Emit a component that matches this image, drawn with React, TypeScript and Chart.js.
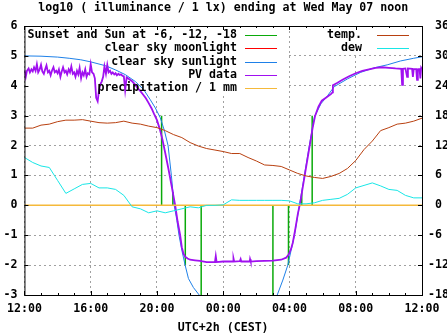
import React, { useEffect, useRef } from "react";
import { Chart, registerables } from "chart.js";

Chart.register(...registerables);

// ---------- text ----------
const chartTitle = "log10 ( illuminance / 1 lx) ending at Wed May 07 noon";
const xAxisTitle = "UTC+2h (CEST)";
const xTickHours = [0, 4, 8, 12, 16, 20, 24];
const xTickLabels = ["12:00", "16:00", "20:00", "00:00", "04:00", "08:00", "12:00"];
const legendLeftLabels = [
  "Sunset and Sun at -6, -12, -18",
  "clear sky moonlight",
  "clear sky sunlight",
  "PV data",
  "precipitation / 1 mm",
];
const legendRightLabels = ["temp.", "dew"];

// ---------- data (hours since 12:00) ----------
const sunlightHours = [
  0, 1, 2, 2.7, 3.4, 4, 4.9, 5.5, 6.1, 6.7, 7.2, 7.6, 7.9, 8.2, 8.45, 8.67, 8.87, 9.04, 9.2, 9.33, 9.5, 9.7,
  9.9, 10.2, 10.55, 10.8, 15.0, 15.26, 15.6, 15.9, 16.1, 16.3, 16.6, 16.9, 17.2, 17.5, 17.9, 18.3, 18.7,
  19.5, 20.3, 21.1, 21.9, 22.7, 23.5, 24,
];
const sunlightLog = [
  5.0, 4.99, 4.96, 4.92, 4.87, 4.8, 4.67, 4.53, 4.37, 4.14, 3.87, 3.53, 3.26, 2.93, 2.5, 2.0, 1.0, 0.0, -0.5,
  -1.0, -1.5, -2.0, -2.45, -2.75, -3.0, -3.3, -3.4, -3.0, -2.5, -2.0, -1.5, -1.0, 0.0, 1.0, 2.0, 2.95, 3.4,
  3.67, 3.97, 4.23, 4.45, 4.6, 4.7, 4.83, 4.92, 4.97,
];

const pvHours = [
  0.0, 0.08, 0.15, 0.25, 0.33, 0.42, 0.5, 0.58, 0.67, 0.75, 0.83, 0.92, 1.0, 1.08, 1.17, 1.25, 1.33, 1.42,
  1.5, 1.58, 1.67, 1.75, 1.83, 1.92, 2.0, 2.08, 2.17, 2.25, 2.33, 2.42, 2.5, 2.58, 2.67, 2.75, 2.83, 2.92,
  3.0, 3.08, 3.17, 3.25, 3.33, 3.42, 3.5, 3.58, 3.67, 3.75, 3.83, 3.92, 4.0, 4.08, 4.17, 4.25, 4.33, 4.42,
  4.5, 4.58, 4.67, 4.75, 4.83, 4.92, 5.0, 5.08, 5.17, 5.25, 5.33, 5.42, 5.5, 5.58, 5.67, 5.75, 5.83, 5.92,
  6.0, 6.08, 6.17, 6.33, 6.5, 6.67, 6.83, 7.0, 7.17, 7.33, 7.5, 7.67, 7.83, 8.0, 8.17, 8.33, 8.5, 8.7, 8.9,
  9.1, 9.25, 9.4, 9.5, 9.6, 9.7, 9.85, 10.0, 10.3, 10.6, 11.0, 11.5, 11.55, 11.6, 12.0, 12.6, 12.62, 12.66,
  13.0, 13.05, 13.09, 13.6, 13.62, 13.66, 14.0, 14.5, 15.0, 15.5, 15.8, 15.95, 16.1, 16.2, 16.35, 16.5,
  16.65, 16.8, 16.95, 17.1, 17.25, 17.4, 17.55, 17.75, 17.95, 18.2, 18.5, 18.6, 18.62, 18.9, 19.2, 19.6,
  20.0, 20.4, 20.8, 21.2, 21.6, 22.0, 22.4, 22.75, 22.8, 22.85, 23.0, 23.1, 23.15, 23.4, 23.45, 23.5, 23.65,
  23.7, 23.75, 23.85, 23.9, 23.95, 24.0,
];
const pvLog = [
  4.52, 4.3, 4.5, 4.58, 4.45, 4.55, 4.48, 4.62, 4.5, 4.72, 4.45, 4.55,
  4.7, 4.48, 4.4, 4.55, 4.68, 4.45, 4.5, 4.35, 4.52, 4.62, 4.45, 4.5,
  4.42, 4.55, 4.3, 4.48, 4.62, 4.45, 4.5, 4.38, 4.55, 4.45, 4.65, 4.4,
  4.45, 4.3, 4.5, 4.38, 4.6, 4.25, 4.45, 4.35, 4.55, 4.3, 4.42, 4.38,
  4.72, 4.45, 4.4, 4.25, 3.6, 3.48, 3.85, 4.05, 4.15, 4.3, 4.65, 4.4,
  4.7, 4.45, 4.5, 4.4, 4.45, 4.38, 4.42, 4.35, 4.4, 4.36, 4.38, 4.33,
  4.32, 3.85, 4.28, 4.22,
  4.15, 4.05, 3.92, 3.82, 3.7, 3.58, 3.42, 3.25, 3.05, 2.85, 2.55, 2.2, 1.75, 1.2, 0.6, 0.0, -0.55, -1.0,
  -1.4, -1.62, -1.72, -1.78, -1.82, -1.84, -1.86, -1.9, -1.9, -1.7, -1.9, -1.88, -1.88, -1.78, -1.88, -1.87,
  -1.8, -1.88, -1.88, -1.8, -1.88, -1.87, -1.86, -1.85, -1.82, -1.75, -1.65, -1.45, -1.25, -0.8, -0.3, 0.1,
  0.6, 1.1, 1.6, 2.1, 2.6, 3.0, 3.3, 3.5, 3.6, 3.72, 3.78, 4.02, 4.1, 4.2, 4.32, 4.42, 4.5, 4.55, 4.6, 4.62,
  4.6, 4.58, 4.57, 4.03, 4.57, 4.58, 4.3, 4.58, 4.57, 4.3, 4.56, 4.56, 4.2, 4.55, 4.56, 4.25, 4.6, 4.55,
];

const sunEventHours = [8.28, 8.96, 9.71, 10.67, 15.0, 15.94, 16.74, 17.37];
const sunEventLevels = [3, 0.45, -2, -3, -3, -2, 0.45, 3];

const moonHours: number[] = [];
const moonLog: number[] = [];

const precipHours = [0, 24];
const precipLog = [0, 0];

const weatherHours = [
  0, 0.5, 1, 1.5, 2, 2.5, 3, 3.5, 4, 4.5, 5, 5.5, 6, 6.5, 7, 7.5, 8, 8.5, 9, 9.5, 10, 10.5, 11, 11.5, 12,
  12.5, 13, 13.5, 14, 14.5, 15, 15.5, 16, 16.5, 17, 17.5, 18, 18.5, 19, 19.5, 20, 20.5, 21, 21.5, 22, 22.5,
  23, 23.5, 24,
];
const tempC = [
  15.5, 15.5, 16.1, 16.3, 16.8, 17.1, 17.1, 17.2, 16.9, 16.6, 16.5, 16.6, 16.9, 16.5, 16.3, 15.9, 15.6, 15.0,
  14.2, 13.6, 12.6, 11.9, 11.4, 11.1, 10.8, 10.4, 10.4, 9.6, 8.9, 8.1, 8.0, 7.8, 7.1, 6.4, 5.9, 5.6, 5.4, 5.8,
  6.4, 7.4, 9.0, 11.2, 12.9, 15.0, 15.6, 16.3, 16.5, 16.9, 17.5,
];
const dewC = [
  9.6, 8.6, 7.9, 7.6, 5.0, 2.4, 3.3, 4.2, 4.4, 3.5, 3.5, 3.2, 2.0, -0.3, -0.7, -1.5, -1.1, -1.5, -1.1, -0.7,
  -0.3, -0.5, 0.0, 0.0, 0.1, 1.1, 1.0, 1.0, 1.0, 1.0, 1.0, 1.0, 0.9, 0.3, 0.3, 0.5, 1.0, 1.2, 1.4, 2.2, 3.5,
  4.0, 4.5, 3.9, 3.2, 3.0, 2.0, 1.5, 1.5,
];

// ---------- styles ----------
const FONT_FAMILY = "'DejaVu Sans Mono', 'Liberation Mono', monospace";
const FONT_SIZE = 11.6;
const FONT_CSS = `bold ${FONT_SIZE}px ${FONT_FAMILY}`;
const tickFont = { family: FONT_FAMILY, size: FONT_SIZE, weight: "bold" as const };

const COL_GREEN = "#0aaa0a";
const COL_RED = "#ff0000";
const COL_BLUE = "#1e80e8";
const COL_PURPLE = "#a010f0";
const COL_YELLOW = "#f5b93a";
const COL_TEMP = "#b84010";
const COL_DEW = "#18e6e6";
const legendLeftColors = [COL_GREEN, COL_RED, COL_BLUE, COL_PURPLE, COL_YELLOW];
const legendRightColors = [COL_TEMP, COL_DEW];

function pts(xs: number[], ys: number[]) {
  return xs.map((x, i) => ({ x, y: ys[i] }));
}

function impulses(xs: number[], ys: number[]) {
  const out: { x: number; y: number | null }[] = [];
  xs.forEach((x, i) => {
    out.push({ x, y: 0 });
    out.push({ x, y: ys[i] });
    out.push({ x, y: null });
  });
  return out;
}

const decorPlugin = {
  id: "gnuplotDecor",
  beforeDatasetsDraw(chart: any) {
    const { ctx, chartArea: a } = chart;
    ctx.save();
    ctx.fillStyle = "#ffffff";
    ctx.fillRect(a.left + 1, a.top + 1, 263, 67);
    ctx.fillRect(330, a.top + 1, a.right - 331, 28);
    ctx.restore();
  },
  afterDraw(chart: any) {
    const { ctx, chartArea: a } = chart;
    const xs = chart.scales.x;
    ctx.save();
    ctx.font = FONT_CSS;
    ctx.fillStyle = "#000";
    ctx.textBaseline = "middle";
    ctx.textAlign = "center";
    ctx.fillText(chartTitle, (a.left + a.right) / 2, 8);

    ctx.textAlign = "right";
    legendLeftLabels.forEach((label, i) => {
      const y = 35 + i * 13.25;
      ctx.fillStyle = "#000";
      ctx.fillText(label, 237, y);
      ctx.strokeStyle = legendLeftColors[i];
      ctx.lineWidth = 1;
      ctx.beginPath();
      ctx.moveTo(245, Math.round(y) + 0.5);
      ctx.lineTo(277, Math.round(y) + 0.5);
      ctx.stroke();
    });
    legendRightLabels.forEach((label, i) => {
      const y = 35 + i * 13.25;
      ctx.fillStyle = "#000";
      ctx.fillText(label, 362, y);
      ctx.strokeStyle = legendRightColors[i];
      ctx.lineWidth = 1;
      ctx.beginPath();
      ctx.moveTo(377, Math.round(y) + 0.5);
      ctx.lineTo(409, Math.round(y) + 0.5);
      ctx.stroke();
    });

    // border
    ctx.strokeStyle = "#000";
    ctx.lineWidth = 1;
    ctx.strokeRect(a.left + 0.5, a.top + 0.5, a.right - a.left, a.bottom - a.top);

    // tic marks
    ctx.beginPath();
    for (let h = 0; h <= 24; h++) {
      const px = Math.round(xs.getPixelForValue(h)) + 0.5;
      const len = h % 4 === 0 ? 4 : 2;
      ctx.moveTo(px, a.bottom);
      ctx.lineTo(px, a.bottom - len);
      ctx.moveTo(px, a.top);
      ctx.lineTo(px, a.top + len);
    }
    const ys = chart.scales.y;
    for (let v = -3; v <= 6; v++) {
      const py = Math.round(ys.getPixelForValue(v)) + 0.5;
      ctx.moveTo(a.left, py);
      ctx.lineTo(a.left + 4, py);
      ctx.moveTo(a.right, py);
      ctx.lineTo(a.right - 4, py);
    }
    ctx.stroke();
    ctx.restore();
  },
};

export default function App() {
  const ref = useRef<HTMLCanvasElement | null>(null);
  useEffect(() => {
    document.body.style.margin = "0";
    const canvas = ref.current;
    if (!canvas) return;
    const chart = new Chart(canvas, {
      type: "line",
      data: {
        datasets: [
          {
            label: legendLeftLabels[0],
            data: impulses(sunEventHours, sunEventLevels) as any,
            borderColor: COL_GREEN,
            borderWidth: 1.5,
            pointRadius: 0,
            spanGaps: false,
            order: 7,
            yAxisID: "y",
          },
          {
            label: legendLeftLabels[1],
            data: pts(moonHours, moonLog),
            borderColor: COL_RED,
            borderWidth: 1,
            pointRadius: 0,
            order: 6,
            yAxisID: "y",
          },
          {
            label: legendLeftLabels[2],
            data: pts(sunlightHours, sunlightLog),
            borderColor: COL_BLUE,
            borderWidth: 1,
            pointRadius: 0,
            order: 5,
            yAxisID: "y",
          },
          {
            label: legendLeftLabels[3],
            data: pts(pvHours, pvLog),
            borderColor: COL_PURPLE,
            borderWidth: 1.8,
            pointRadius: 0,
            borderJoinStyle: "miter",
            order: 4,
            yAxisID: "y",
          },
          {
            label: legendLeftLabels[4],
            data: pts(precipHours, precipLog),
            borderColor: COL_YELLOW,
            borderWidth: 1.5,
            pointRadius: 0,
            order: 3,
            yAxisID: "y",
          },
          {
            label: legendRightLabels[0],
            data: pts(weatherHours, tempC),
            borderColor: COL_TEMP,
            borderWidth: 1,
            pointRadius: 0,
            order: 2,
            yAxisID: "y2",
          },
          {
            label: legendRightLabels[1],
            data: pts(weatherHours, dewC),
            borderColor: COL_DEW,
            borderWidth: 1,
            pointRadius: 0,
            order: 1,
            yAxisID: "y2",
          },
        ],
      },
      options: {
        animation: false,
        responsive: false,
        devicePixelRatio: 1,
        parsing: false as any,
        normalized: true,
        layout: { padding: { top: 26, left: 0, right: 0, bottom: 0 } },
        plugins: {
          legend: { display: false },
          title: { display: false },
          tooltip: { enabled: false },
        },
        elements: { line: { tension: 0 } },
        scales: {
          x: {
            type: "linear",
            min: 0,
            max: 24,
            ticks: {
              stepSize: 4,
              autoSkip: false,
              maxRotation: 0,
              padding: 7,
              color: "#000",
              font: tickFont,
              callback: (v: any) => {
                const i = xTickHours.indexOf(Number(v));
                return i >= 0 ? xTickLabels[i] : "";
              },
            },
            grid: { color: "#a0a0a0", lineWidth: 1, drawTicks: false },
            border: { display: false, dash: [2, 3] },
            title: {
              display: true,
              text: xAxisTitle,
              color: "#000",
              font: tickFont,
              padding: { top: 0, bottom: 0 },
            },
            afterFit: (s: any) => {
              s.height = 40;
            },
          },
          y: {
            type: "linear",
            position: "left",
            min: -3,
            max: 6,
            ticks: { stepSize: 1, padding: 7, color: "#000", font: tickFont },
            grid: { color: "#a0a0a0", lineWidth: 1, drawTicks: false },
            border: { display: false, dash: [2, 3] },
            afterFit: (s: any) => {
              s.width = 21;
            },
          },
          y2: {
            type: "linear",
            position: "right",
            min: -18,
            max: 36,
            ticks: {
              stepSize: 6,
              padding: 6,
              color: "#000",
              font: tickFont,
              callback: (v: any) => (Number(v) >= 0 ? " " + v : String(v)),
            },
            grid: { drawOnChartArea: false, drawTicks: false },
            border: { display: false },
            afterFit: (s: any) => {
              s.width = 25;
            },
          },
        },
      },
      plugins: [decorPlugin],
    });
    return () => chart.destroy();
  }, []);
  return <canvas ref={ref} width={447} height={335} style={{ display: "block" }} />;
}
